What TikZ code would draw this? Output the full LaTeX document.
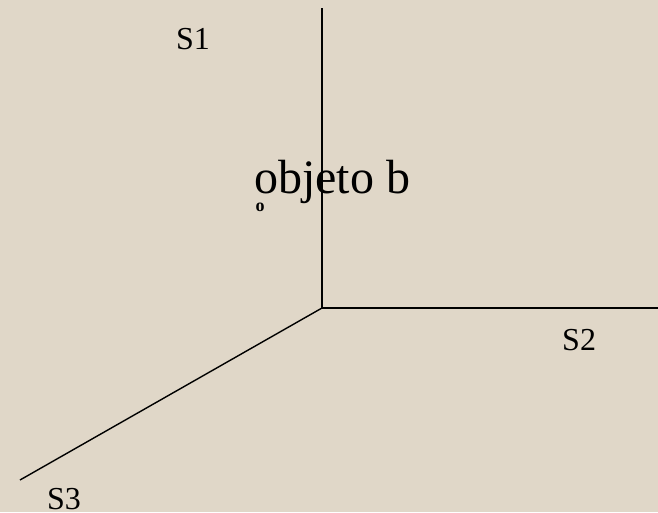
\documentclass[tikz,border=0pt]{standalone}
\usepackage{fontspec}
\setmainfont{Liberation Serif}
\definecolor{papel}{RGB}{224,215,200}
\tikzset{
  eixo/.style={black, line width=1.4pt},
  rotulo/.style={anchor=base west, inner sep=0pt, font=\fontsize{32}{34}\selectfont},
}
\begin{document}
\begin{tikzpicture}[x=1pt, y=-1pt]
    % Fundo
    \fill[papel] (0,0) rectangle (658,512);
    \useasboundingbox (0,0) rectangle (658,512);

    % Eixos
    \coordinate (o) at (322,308);
    \coordinate (s1end) at (322,8);
    \coordinate (s2end) at (658,308);
    \coordinate (s3end) at (20,480);
    \draw[eixo] (s1end) -- (o) -- (s2end);
    \draw[eixo] (o) -- (s3end);

    % Rotulos dos eixos
    \node[rotulo] (s1) at (176,49) {S1};
    \node[rotulo] (s2) at (562,350) {S2};
    \node[rotulo] (s3) at (47,509) {S3};

    % Objeto
    \node[anchor=base west, inner sep=0pt, font=\fontsize{48}{50}\selectfont] (obj) at (254,193) {objeto b};
    \node[inner sep=0pt, font=\fontsize{18}{19}\selectfont\bfseries] (ponto) at (260,207) {o};
\end{tikzpicture}
\end{document}
